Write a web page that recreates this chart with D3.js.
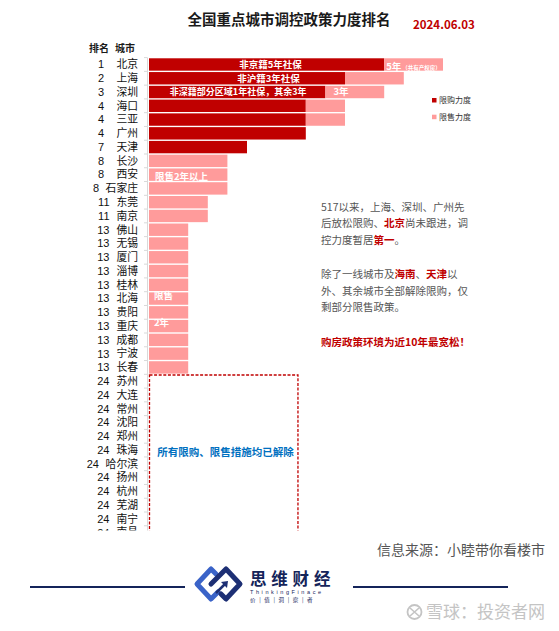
<!DOCTYPE html>
<html><head><meta charset="utf-8">
<script src="https://cdn.jsdelivr.net/npm/d3@7/dist/d3.min.js"></script>
<style>
body{margin:0;background:#fff;}
svg{display:block;font-family:"Noto Sans CJK SC","Noto Sans",sans-serif;}
</style>
</head><body>
<svg id="c" width="559" height="631"></svg>
<script>
// ---------------- data ----------------
const cities = ["北京","上海","深圳","海口","三亚","广州","天津","长沙","西安","石家庄","东莞","南京",
  "佛山","无锡","厦门","淄博","桂林","北海","贵阳","重庆","成都","宁波","长春",
  "苏州","大连","常州","沈阳","郑州","珠海","哈尔滨","扬州","杭州","芜湖","南宁","南昌"];
const ranks = [1,2,3,4,4,4,7,8,8,8,11,11,
  13,13,13,13,13,13,13,13,13,13,13,
  24,24,24,24,24,24,24,24,24,24,24,24];
const purchaseLimit = [12,10,9,8,8,8,5,0,0,0,0,0, 0,0,0,0,0,0,0,0,0,0,0, 0,0,0,0,0,0,0,0,0,0,0,0];
const saleLimit     = [3,3,3,2,2,0,0,4,4,4,3,3, 2,2,2,2,2,2,2,2,2,2,2, 0,0,0,0,0,0,0,0,0,0,0,0];
const seriesNames = ["限购力度","限售力度"];
const darkLabels = [{i:0,text:"非京籍5年社保",at:6.2},{i:1,text:"非沪籍3年社保",at:6.1},{i:2,text:"非深籍部分区域1年社保，其余3年",at:4.55}];
const title = "全国重点城市调控政策力度排名";
const dateText = "2024.06.03";

const C_DARK = "#C00000", C_LIGHT = "#FF9B9B";

const svg = d3.select("#c");

// ---------------- scales ----------------
const n = cities.length, step = 13.77, y0 = 57.6;
const y = d3.scaleBand().domain(d3.range(n)).range([y0, y0 + n*step]).paddingInner(0.1).paddingOuter(0.05);
const x = d3.scaleLinear().domain([0, 15]).range([149, 149 + 15*19.6]);
const yc = i => y0 + (i + 0.5) * step;

// title
svg.append("text").attr("x", 289).attr("y", 25).attr("text-anchor","middle")
  .attr("font-size", 14.5).attr("font-weight", 700).attr("fill", "#1a1a1a").text(title);
svg.append("text").attr("x", 413).attr("y", 28.5)
  .attr("font-size", 11.5).attr("font-weight", 700).attr("fill", C_DARK).text(dateText);

// header
svg.append("text").attr("x", 89).attr("y", 51.5).attr("font-size", 10).attr("font-weight",700).attr("fill","#1a1a1a").text("排名");
svg.append("text").attr("x", 115).attr("y", 51.5).attr("font-size", 10).attr("font-weight",700).attr("fill","#1a1a1a").text("城市");

// clip for the chart area
svg.append("defs").append("clipPath").attr("id","clip")
  .append("rect").attr("x",0).attr("y",40).attr("width",559).attr("height",490.5);
const g = svg.append("g").attr("clip-path","url(#clip)");

// axis line + ticks
g.append("line").attr("x1",147.5).attr("x2",147.5).attr("y1",y0).attr("y2",y0+n*step)
  .attr("stroke","#d9d9d9").attr("stroke-width",1);
g.selectAll("line.tk").data(d3.range(n+1)).join("line").attr("class","tk")
  .attr("x1",144).attr("x2",147.5).attr("y1",i=>y0+i*step).attr("y2",i=>y0+i*step)
  .attr("stroke","#d9d9d9");

// bars (stacked)
const rows = cities.map((c,i)=>({i, city:c, rank:ranks[i], purchase:purchaseLimit[i], sale:saleLimit[i]}));
const stack = d3.stack().keys(["purchase","sale"])(rows);
const colors = [C_DARK, C_LIGHT];
stack.forEach((s,k)=>{
  g.selectAll("rect.s"+k).data(s.filter(d=>d[1]>d[0])).join("rect").attr("class","s"+k)
    .attr("x", d=>x(d[0])).attr("width", d=>x(d[1])-x(d[0]))
    .attr("y", d=>y(d.data.i)).attr("height", y.bandwidth())
    .attr("fill", colors[k]);
});

// row labels
const charW = 10.5;
rows.forEach(r=>{
  const cityStart = 138 - r.city.length*charW;
  const gap = (r.rank<10 && r.city.length===2) ? 13 : 7.5;
  g.append("text").attr("x",138).attr("y",yc(r.i)).attr("dy","0.35em").attr("text-anchor","end")
    .attr("font-size",10.8).attr("fill","#111").text(r.city);
  g.append("text").attr("x",cityStart-gap).attr("y",yc(r.i)).attr("dy","0.35em").attr("text-anchor","end")
    .attr("font-size",11).attr("fill","#111").attr("font-family","Liberation Sans, Arial, sans-serif").text(r.rank);
});

// labels inside dark bars
darkLabels.forEach(d=>{
  g.append("text").attr("x",x(d.at)).attr("y",yc(d.i)).attr("dy","0.35em").attr("text-anchor","middle")
    .attr("font-size", d.i===2 ? 9 : 9.5).attr("font-weight",700).attr("fill","#fff").text(d.text);
});
// labels on light bars
const t5 = g.append("text").attr("x",x(purchaseLimit[0])+2).attr("y",yc(0)).attr("dy","0.35em")
  .attr("font-weight",700).attr("fill","#fff");
t5.append("tspan").attr("font-size",9.5).text("5年");
t5.append("tspan").attr("font-size",5.5).attr("dx",1).text("（共有产权房）");
g.append("text").attr("x",x(purchaseLimit[2])+8).attr("y",yc(2)).attr("dy","0.35em")
  .attr("font-size",9.5).attr("font-weight",700).attr("fill","#fff").text("3年");
g.append("text").attr("x",x(0)+6).attr("y",yc(8)+2).attr("dy","0.35em")
  .attr("font-size",9.5).attr("font-weight",700).attr("fill","#fff").text("限售2年以上");
g.append("text").attr("x",x(0)+5).attr("y",yc(16)+11).attr("dy","0.35em")
  .attr("font-size",9.5).attr("font-weight",700).attr("fill","#fff").text("限售");
g.append("text").attr("x",x(0)+5).attr("y",yc(18)+10).attr("dy","0.35em")
  .attr("font-size",9.5).attr("font-weight",700).attr("fill","#fff").text("2年");

// dashed box for rank 24
const firstFree = ranks.indexOf(24);
g.append("rect").attr("x",x(0)+0.5).attr("y",y(firstFree)).attr("width",x(7.6)-x(0)-0.5)
  .attr("height",200).attr("fill","none").attr("stroke",C_DARK).attr("stroke-width",1.3)
  .attr("stroke-dasharray","3,1.6");
g.append("text").attr("x",(x(0)+x(7.6))/2+2).attr("y",452).attr("dy","0.35em").attr("text-anchor","middle")
  .attr("font-size",10.5).attr("font-weight",700).attr("fill","#0070C0").text("所有限购、限售措施均已解除");

// legend
seriesNames.forEach((s,k)=>{
  svg.append("rect").attr("x",432).attr("y",98+k*16.7).attr("width",4.5).attr("height",4.5).attr("fill",colors[k]);
  svg.append("text").attr("x",439).attr("y",100.3+k*16.7).attr("dy","0.35em").attr("font-size",8).attr("fill","#333").text(s);
});

// commentary
const GREY="#555", RED=C_DARK;
const lines = [
  {y:207, parts:[["517以来，上海、深圳、广州先",0]]},
  {y:223.5, parts:[["后放松限购、",0],["北京",1],["尚未跟进，调",0]]},
  {y:240, parts:[["控力度暂居",0],["第一",1],["。",0]]},
  {y:274.5, parts:[["除了一线城市及",0],["海南",1],["、",0],["天津",1],["以",0]]},
  {y:291, parts:[["外、其余城市全部解除限购，仅",0]]},
  {y:307, parts:[["剩部分限售政策。",0]]},
  {y:342.5, parts:[["购房政策环境为近10年最宽松！",1]]}
];
lines.forEach(l=>{
  const t = svg.append("text").attr("x",321).attr("y",l.y).attr("dy","0.35em").attr("font-size",10.5);
  l.parts.forEach(p=>{
    t.append("tspan").attr("fill",p[1]?RED:GREY).attr("font-weight",p[1]?700:400).text(p[0]);
  });
});

// source
svg.append("text").attr("x",545).attr("y",550).attr("dy","0.35em").attr("text-anchor","end")
  .attr("font-size",14).attr("fill","#555").text("信息来源：小睦带你看楼市");

// logo
const NAVY="#14245a";
svg.append("line").attr("x1",30).attr("x2",185).attr("y1",587).attr("y2",587).attr("stroke",NAVY).attr("stroke-width",1.8);
svg.append("line").attr("x1",353).attr("x2",508).attr("y1",587).attr("y2",587).attr("stroke",NAVY).attr("stroke-width",1.8);
const lg = svg.append("g");
lg.append("path").attr("d","M216,574 L211,569 L197,584 L211,599 L218,592").attr("fill","none")
  .attr("stroke","#3a63c8").attr("stroke-width",5).attr("stroke-linejoin","round").attr("stroke-linecap","round");
lg.append("path").attr("d","M211,584 L226,569 L240,584 L226,599 L221,594").attr("fill","none")
  .attr("stroke","#1d2f74").attr("stroke-width",5).attr("stroke-linejoin","round").attr("stroke-linecap","round");
lg.append("line").attr("x1",216).attr("y1",593).attr("x2",225).attr("y2",584).attr("stroke","#1d2f74").attr("stroke-width",2.5);
lg.append("path").attr("d","M221,582 L228,581 L227,588 Z").attr("fill","#1d2f74");
svg.append("text").attr("x",250).attr("y",579).attr("dy","0.35em").attr("font-size",16.5).attr("font-weight",700)
  .attr("letter-spacing",4.8).attr("fill",NAVY).text("思维财经");
svg.append("text").attr("x",250).attr("y",592.5).attr("dy","0.35em").attr("font-size",5.5)
  .attr("letter-spacing",2.6).attr("fill",NAVY).attr("font-family","Liberation Sans, sans-serif").text("ThinkingFinace");
svg.append("text").attr("x",250).attr("y",600.5).attr("dy","0.35em").attr("font-size",5.5)
  .attr("letter-spacing",1.2).attr("fill",NAVY).text("价 | 值 | 洞 | 察 | 者");

// watermark
svg.append("circle").attr("cx",414.5).attr("cy",612).attr("r",7).attr("fill","none").attr("stroke","#c4c4c4").attr("stroke-width",1.8);
svg.append("path").attr("d","M410,608 L419,616 M419,608 L410,616").attr("stroke","#c4c4c4").attr("stroke-width",1.6);
svg.append("text").attr("x",545).attr("y",612).attr("dy","0.35em").attr("text-anchor","end")
  .attr("font-size",17).attr("fill","#c4c4c4").text("雪球：投资者网");
</script>
</body></html>
